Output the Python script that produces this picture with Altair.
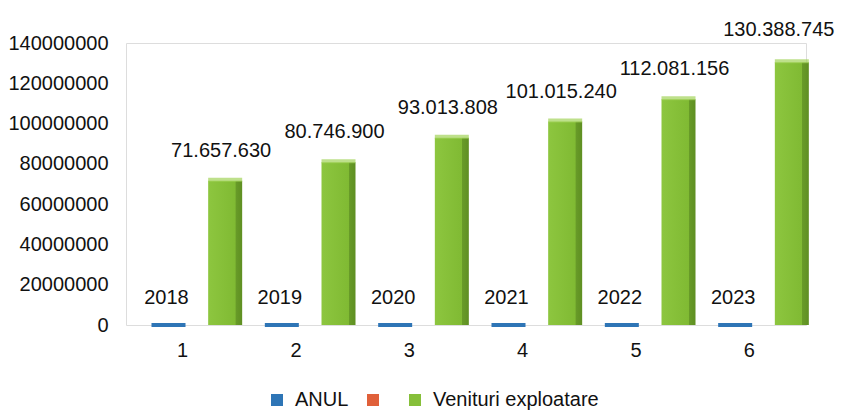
import altair as alt
import pandas as pd

# ---- data ----
categories = [1, 2, 3, 4, 5, 6]
anul = [2018, 2019, 2020, 2021, 2022, 2023]
venituri = [71657630, 80746900, 93013808, 101015240, 112081156, 130388745]
series_names = ["ANUL", " ", "Venituri exploatare"]
series_colors = ["#2e75b6", "#e0603a", "#86bf3a"]
y_ticks = [0, 20000000, 40000000, 60000000, 80000000, 100000000, 120000000, 140000000]

rows = []
for c, a, v in zip(categories, anul, venituri):
    rows.append({"cat": c, "series": "ANUL", "value": a, "label": str(a)})
    rows.append({"cat": c, "series": "Venituri exploatare", "value": v, "label": ""})
df = pd.DataFrame(rows)

offset_domain = ["pad", "ANUL", " ", "Venituri exploatare"]
FONT = "Liberation Sans"

x = alt.X("cat:N", title=None,
          scale=alt.Scale(paddingInner=0, paddingOuter=0),
          axis=alt.Axis(labelAngle=0, domain=False, ticks=False, grid=False,
                        labelPadding=15, labelFontSize=20, labelFont=FONT,
                        labelColor="#111111"))
xoff = alt.XOffset("series:N", scale=alt.Scale(domain=offset_domain, paddingInner=0, paddingOuter=0))
y = alt.Y("value:Q", title=None,
          scale=alt.Scale(domain=[0, 140000000], nice=False, zero=True),
          axis=alt.Axis(values=y_ticks, format="d", domain=False, ticks=False, grid=False,
                        labelPadding=18, labelFontSize=20, labelFont=FONT,
                        labelColor="#111111"))

base = alt.Chart(df).encode(x=x, xOffset=xoff)
green_data = base.transform_filter(alt.datum.series == "Venituri exploatare")

green = green_data.mark_bar(
    width=34,
    color={
        "x1": 0, "x2": 1, "y1": 0, "y2": 0,
        "gradient": "linear",
        "stops": [
            {"offset": 0.0, "color": "#8dc63f"},
            {"offset": 0.80, "color": "#80ba33"},
            {"offset": 0.81, "color": "#689b28"},
            {"offset": 1.0, "color": "#5f8f22"},
        ],
    },
).encode(y=y)

green_top = green_data.mark_tick(size=34, thickness=4, color="#a3d35a", yOffset=-1).encode(y=y)

blue = base.transform_filter(alt.datum.series == "ANUL").mark_tick(
    size=34, thickness=4, opacity=1
).encode(
    y=y,
    color=alt.Color("series:N", title=None,
                    scale=alt.Scale(domain=series_names, range=series_colors),
                    legend=alt.Legend(orient="none", direction="horizontal",
                                      legendX=141, legendY=347,
                                      symbolType="square", symbolSize=144,
                                      symbolStrokeWidth=0, labelLimit=0,
                                      labelExpr="datum.label == ' ' ? '' : datum.label",
                                      labelFontSize=20, labelFont=FONT,
                                      labelColor="#111111",
                                      labelOffset=8, columnPadding=14)),
)

label_data = green_data.transform_calculate(
    txt="replace(replace(format(datum.value, ','), ',', '.'), ',', '.')"
)
value_labels = label_data.transform_filter(alt.datum.cat < 6).mark_text(
    baseline="middle", align="center", dy=-30, dx=-4, fontSize=20, font=FONT,
    color="#111111").encode(y=y, text="txt:N")
last_label = label_data.transform_filter(alt.datum.cat == 6).mark_text(
    baseline="middle", align="center", dy=-32, dx=-13, fontSize=20, font=FONT,
    color="#111111").encode(y=y, text="txt:N")

year_labels = base.transform_filter(alt.datum.series == "ANUL").mark_text(
    baseline="middle", align="center", dy=-27, dx=-2, fontSize=20, font=FONT, color="#111111"
).encode(y=y, text="label:N")

chart = alt.layer(green, green_top, blue, value_labels, last_label, year_labels).properties(
    width=680, height=282,
    autosize=alt.AutoSizeParams(type="none"),
    padding={"left": 118, "top": 35, "right": 31, "bottom": 87},
).configure_view(stroke=None).configure(background="white")

chart.save("out.html", embed_options={"renderer": "svg", "actions": False})
